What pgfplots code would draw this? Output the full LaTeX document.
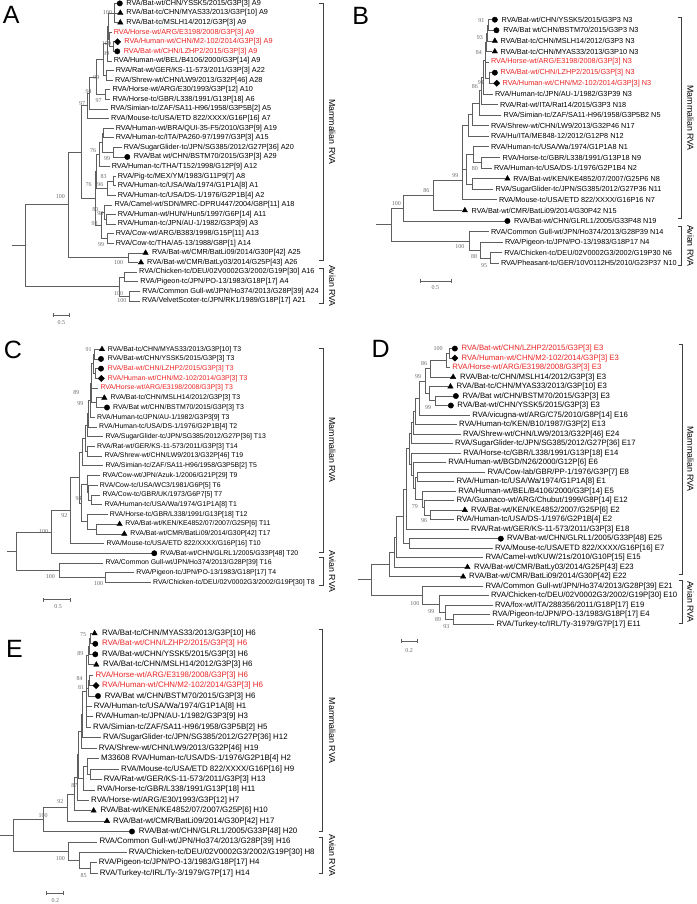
\documentclass[border=0pt]{standalone}
\usepackage{pgfplots}
\pgfplotsset{compat=1.18}
\usepackage{fontspec}
\setmainfont{Liberation Sans}
\newfontfamily\serifnum{Liberation Serif}
\definecolor{treegray}{RGB}{95,95,95}
\definecolor{redlab}{RGB}{235,35,35}
\definecolor{bsgray}{RGB}{105,105,105}
\newcommand{\lf}[4]{\node[anchor=west,inner sep=0pt,font=\fontsize{#1}{9}\selectfont] at (axis cs:#2,#3) {#4};}
\newcommand{\rl}[4]{\node[anchor=west,inner sep=0pt,text=redlab,font=\fontsize{#1}{9}\selectfont] at (axis cs:#2,#3) {#4};}
\newcommand{\bs}[3]{\node[inner sep=0pt,text=bsgray,font=\serifnum\fontsize{6}{7}\selectfont] at (axis cs:#1,#2) {#3};}
\newcommand{\pl}[3]{\node[inner sep=0pt,font=\fontsize{25}{25}\selectfont] at (axis cs:#1,#2) {#3};}
\newcommand{\grp}[3]{\node[inner sep=0pt,rotate=-90,font=\fontsize{8.8}{10}\selectfont] at (axis cs:#1,#2) {#3};}
\pgfplotsset{
  tree/.style={no marks, line width=0.7pt, draw=treegray, unbounded coords=jump, forget plot},
  brk/.style={no marks, line width=0.6pt, draw=black!75, unbounded coords=jump, forget plot},
  circ/.style={only marks, mark=*, mark size=2.7pt, black, forget plot},
  tri/.style={only marks, mark=triangle*, mark size=3.1pt, black, forget plot},
  dia/.style={only marks, mark=square*, mark size=2.2pt, black, every mark/.append style={rotate=45}, forget plot},
}
\begin{document}
\begin{tikzpicture}
\begin{axis}[width=696pt, height=904pt, scale only axis,
  xmin=0, xmax=696, ymin=0, ymax=904, y dir=reverse,
  hide axis, clip=false]
\addplot[draw=none, forget plot] coordinates {(0,0) (696,904)};

% ================= PANEL A =================
\addplot[tree] coordinates {
(117,3) (114,3) (114,22.2) (117.5,22.2) (nan,nan) (114,12.6) (117.5,12.6) (nan,nan)
(114.8,41.4) (113.5,41.4) (113.5,51) (114.5,51) (nan,nan)
(111.5,31.8) (109.5,31.8) (109.5,46.2) (113.5,46.2) (nan,nan)
(114,12.6) (108.5,12.6) (108.5,39) (109.5,39) (nan,nan)
(108.5,25.8) (107.5,25.8) (107.5,60.6) (111.3,60.6) (nan,nan)
(113.3,70.2) (106.5,70.2) (106.5,79.8) (112.7,79.8) (nan,nan)
(107.5,43.2) (103.5,43.2) (103.5,75) (106.5,75) (nan,nan)
(110,89.4) (105.3,89.4) (105.3,99) (110,99) (nan,nan)
(103.5,59.1) (96.5,59.1) (96.5,94.2) (105.3,94.2) (nan,nan)
(96.5,76.6) (89.5,76.6) (89.5,108.6) (108,108.6) (nan,nan)
(89.5,92.6) (87.5,92.6) (87.5,118.2) (108.7,118.2) (nan,nan)
(113.3,127.8) (103.3,127.8) (103.3,137.4) (113.3,137.4) (nan,nan)
(121.3,147) (112.7,147) (112.7,156.6) (124.5,156.6) (nan,nan)
(103.3,132.6) (101.7,132.6) (101.7,151.8) (112.7,151.8) (nan,nan)
(101.7,142.2) (99.5,142.2) (99.5,166.2) (109.3,166.2) (nan,nan)
(115.3,175.8) (113.5,175.8) (113.5,185.4) (115.3,185.4) (nan,nan)
(113.5,180.6) (106.7,180.6) (106.7,195) (115.3,195) (nan,nan)
(99.5,154.2) (96.5,154.2) (96.5,187.8) (106.7,187.8) (nan,nan)
(115.3,214.2) (106,214.2) (106,223.8) (115.3,223.8) (nan,nan)
(112,204.6) (104,204.6) (104,219) (106,219) (nan,nan)
(113.3,233.4) (107.5,233.4) (107.5,243) (113.3,243) (nan,nan)
(104,211.8) (101,211.8) (101,238.2) (107.5,238.2) (nan,nan)
(96.5,171) (95,171) (95,225) (101,225) (nan,nan)
(87.5,105.4) (81,105.4) (81,198) (95,198) (nan,nan)
(142.8,252.6) (128.3,252.6) (128.3,262.2) (138.2,262.2) (nan,nan)
(81,151.7) (67.7,151.7) (67.7,257.4) (128.3,257.4) (nan,nan)
(136.7,271.8) (124,271.8) (124,281.4) (138,281.4) (nan,nan)
(140,291) (129.3,291) (129.3,300.6) (139.7,300.6) (nan,nan)
(124,276.6) (119,276.6) (119,295.8) (129.3,295.8) (nan,nan)
(67.7,204.5) (25,204.5) (25,286.2) (119,286.2) (nan,nan)
(11.7,245.4) (25,245.4) (nan,nan)
(53,315) (69,315) (nan,nan) (53,313) (53,317) (nan,nan) (69,313) (69,317)
};
\addplot[brk] coordinates {(319,2.7) (322.7,2.7) (322.7,260) (319,260) (nan,nan) (319,268.3) (322.7,268.3) (322.7,303) (319,303)};
\addplot[circ] coordinates {(119.5,3) (117,51) (127,156.6)};
\addplot[tri] coordinates {(120,12.6) (120,22.2) (145.3,252.6) (140.7,262.2)};
\addplot[dia] coordinates {(117.3,41.4)};
\pl{10.8}{14.2}{A}
\grp{332}{131.4}{Mammalian RVA}
\grp{332}{285.7}{Avian RVA}
\lf{7.3}{126}{3}{RVA/Bat-wt/CHN/YSSK5/2015/G3P[3] A9}
\lf{7.3}{126}{12.6}{RVA/Bat-tc/CHN/MYAS33/2013/G3P[10] A9}
\lf{7.3}{126}{22.2}{RVA/Bat-tc/MSLH14/2012/G3P[3] A9}
\rl{7.3}{113.3}{31.8}{RVA/Horse-wt/ARG/E3198/2008/G3P[3] A9}
\rl{7.3}{124}{41.4}{RVA/Human-wt/CHN/M2-102/2014/G3P[3] A9}
\rl{7.3}{123.3}{51}{RVA/Bat-wt/CHN/LZHP2/2015/G3P[3] A9}
\lf{7.3}{113.3}{60.6}{RVA/Human-wt/BEL/B4106/2000/G3P[14] A9}
\lf{7.3}{115.3}{70.2}{RVA/Rat-wt/GER/KS-11-573/2011/G3P[3] A22}
\lf{7.3}{114.7}{79.8}{RVA/Shrew-wt/CHN/LW9/2013/G32P[46] A28}
\lf{7.3}{112}{89.4}{RVA/Horse-wt/ARG/E30/1993/G3P[12] A10}
\lf{7.3}{112}{99}{RVA/Horse-tc/GBR/L338/1991/G13P[18] A6}
\lf{7.3}{110}{108.6}{RVA/Simian-tc/ZAF/SA11-H96/1958/G3P5B[2] A5}
\lf{7.3}{110.7}{118.2}{RVA/Mouse-tc/USA/ETD 822/XXXX/G16P[16] A7}
\lf{7.3}{115.3}{127.8}{RVA/Human-wt/BRA/QUI-35-F5/2010/G3P[9] A19}
\lf{7.3}{115.3}{137.4}{RVA/Human-tc/ITA/PA260-97/1997/G3P[3] A15}
\lf{7.3}{123.3}{147}{RVA/SugarGlider-tc/JPN/SG385/2012/G27P[36] A20}
\lf{7.3}{133.3}{156.6}{RVA/Bat wt/CHN/BSTM70/2015/G3P[3] A29}
\lf{7.3}{111.3}{166.2}{RVA/Human-tc/THA/T152/1998/G12P[9] A12}
\lf{7.3}{117.3}{175.8}{RVA/Pig-tc/MEX/YM/1983/G11P9[7] A8}
\lf{7.3}{117.3}{185.4}{RVA/Human-tc/USA/Wa/1974/G1P1A[8] A1}
\lf{7.3}{117.3}{195}{RVA/Human-tc/USA/DS-1/1976/G2P1B[4] A2}
\lf{7.3}{114}{204.6}{RVA/Camel-wt/SDN/MRC-DPRU447/2004/G8P[11] A18}
\lf{7.3}{117.3}{214.2}{RVA/Human-wt/HUN/Hun5/1997/G6P[14] A11}
\lf{7.3}{117.3}{223.8}{RVA/Human-tc/JPN/AU-1/1982/G3P3[9] A3}
\lf{7.3}{115.3}{233.4}{RVA/Cow-wt/ARG/B383/1998/G15P[11] A13}
\lf{7.3}{115.3}{243}{RVA/Cow-tc/THA/A5-13/1988/G8P[1] A14}
\lf{7.3}{151.7}{252.6}{RVA/Bat-wt/CMR/BatLi09/2014/G30P[42] A25}
\lf{7.3}{146.7}{262.2}{RVA/Bat-wt/CMR/BatLy03/2014/G25P[43] A26}
\lf{7.3}{138.7}{271.8}{RVA/Chicken-tc/DEU/02V0002G3/2002/G19P[30] A16}
\lf{7.3}{140}{281.4}{RVA/Pigeon-tc/JPN/PO-13/1983/G18P[17] A4}
\lf{7.3}{142}{291}{RVA/Common Gull-wt/JPN/Ho374/2013/G28P[39] A24}
\lf{7.3}{141.7}{300.6}{RVA/VelvetScoter-tc/JPN/RK1/1989/G18P[17] A21}
\bs{107}{12.5}{100} \bs{106}{43.3}{100} \bs{106}{52.7}{99} \bs{96}{77.3}{99}
\bs{88.3}{90.7}{94} \bs{98.3}{100}{97} \bs{81.7}{102.7}{97} \bs{92.7}{150}{76}
\bs{106.7}{158}{99} \bs{103.3}{176}{83} \bs{100}{184.3}{96} \bs{88.3}{184.3}{76}
\bs{60}{196}{100} \bs{95}{209.3}{80} \bs{100}{213.3}{98} \bs{94.3}{223}{93}
\bs{100.7}{244.3}{99} \bs{118.3}{262.7}{100} \bs{118.3}{293.3}{100} \bs{121.7}{300.7}{100}
\bs{61}{322.7}{0.5}

% ================= PANEL B =================
\addplot[tree] coordinates {
(492.2,19.3) (488.5,19.3) (488.5,29.9) (493.8,29.9) (nan,nan)
(488.5,24.6) (487.3,24.6) (487.3,40.5) (492.2,40.5) (nan,nan)
(487.3,32.6) (486.3,32.6) (486.3,51.1) (492.2,51.1) (nan,nan)
(492.2,72.3) (489,72.3) (489,82.9) (494.2,82.9) (nan,nan)
(486.3,41.9) (485,41.9) (485,77.6) (489,77.6) (nan,nan) (485,61.7) (488.7,61.7) (nan,nan)
(485,59.8) (483,59.8) (483,93.5) (492.7,93.5) (nan,nan)
(483,76.7) (481,76.7) (481,104.1) (497.7,104.1) (nan,nan)
(481,90.4) (479.5,90.4) (479.5,114.7) (501.3,114.7) (nan,nan)
(479.5,102.6) (472,102.6) (472,125.3) (488.7,125.3) (nan,nan)
(472,114) (468,114) (468,135.9) (488.7,135.9) (nan,nan)
(500.3,157.1) (481.3,157.1) (481.3,167.7) (491.7,167.7) (nan,nan)
(488.7,146.5) (473,146.5) (473,162.4) (481.3,162.4) (nan,nan)
(504.8,178.3) (472,178.3) (472,188.9) (493.3,188.9) (nan,nan)
(473,154.5) (466.3,154.5) (466.3,183.6) (472,183.6) (nan,nan)
(468,125) (462,125) (462,199.5) (496.7,199.5) (nan,nan) (462,169) (466.3,169) (nan,nan)
(462,180) (433.3,180) (433.3,210.1) (462.2,210.1) (nan,nan)
(433.3,195) (403.3,195) (403.3,220.7) (504.8,220.7) (nan,nan)
(502,252.5) (490.7,252.5) (490.7,263.1) (498.7,263.1) (nan,nan)
(502.7,241.9) (480.7,241.9) (480.7,257.8) (490.7,257.8) (nan,nan)
(488.7,231.3) (469,231.3) (469,249.9) (480.7,249.9) (nan,nan)
(403.3,207.9) (391.3,207.9) (391.3,240.6) (469,240.6) (nan,nan)
(376.3,224.2) (391.3,224.2) (nan,nan)
(419.7,280.7) (451.3,280.7) (nan,nan) (419.7,278.7) (419.7,282.7) (nan,nan) (451.3,278.7) (451.3,282.7)
};
\addplot[brk] coordinates {(678,17.3) (681.5,17.3) (681.5,218.3) (678,218.3) (nan,nan) (678,226) (681.5,226) (681.5,265) (678,265)};
\addplot[circ] coordinates {(494.7,19.3) (496.3,29.9) (494.7,72.3) (507.3,220.7)};
\addplot[tri] coordinates {(494.7,40.5) (494.7,51.1) (507.3,178.3) (464.7,210.1)};
\addplot[dia] coordinates {(496.7,82.9)};
\pl{360.5}{15.5}{B}
\grp{690.5}{117.8}{Mammalian RVA}
\grp{690.5}{245.5}{Avian RVA}
\lf{7.3}{501.3}{19.3}{RVA/Bat-wt/CHN/YSSK5/2015/G3P3 N3}
\lf{7.3}{503}{29.9}{RVA/Bat wt/CHN/BSTM70/2015/G3P3 N3}
\lf{7.3}{500.3}{40.5}{RVA/Bat-tc/CHN/MSLH14/2012/G3P3 N3}
\lf{7.3}{500.3}{51.1}{RVA/Bat-tc/CHN/MYAS33/2013/G3P10 N3}
\rl{7.3}{490.7}{61.7}{RVA/Horse-wt/ARG/E3198/2008/G3P[3] N3}
\rl{7.3}{500.3}{72.3}{RVA/Bat-wt/CHN/LZHP2/2015/G3P[3] N3}
\rl{7.3}{502.3}{82.9}{RVA/Human-wt/CHN/M2-102/2014/G3P[3] N3}
\lf{7.3}{494.7}{93.5}{RVA/Human-tc/JPN/AU-1/1982/G3P39 N3}
\lf{7.3}{499.7}{104.1}{RVA/Rat-wt/ITA/Rat14/2015/G3P3 N18}
\lf{7.3}{503.3}{114.7}{RVA/Simian-tc/ZAF/SA11-H96/1958/G3P5B2 N5}
\lf{7.3}{490.7}{125.3}{RVA/Shrew-wt/CHN/LW9/2013/G32P46 N17}
\lf{7.3}{490.7}{135.9}{RVA/Hu/ITA/ME848-12/2012/G12P8 N12}
\lf{7.3}{490.7}{146.5}{RVA/Human-tc/USA/Wa/1974/G1P1A8 N1}
\lf{7.3}{502.3}{157.1}{RVA/Horse-tc/GBR/L338/1991/G13P18 N9}
\lf{7.3}{493.7}{167.7}{RVA/Human-tc/USA/DS-1/1976/G2P1B4 N2}
\lf{7.3}{513}{178.3}{RVA/Bat-wt/KEN/KE4852/07/2007/G25P6 N8}
\lf{7.3}{495.3}{188.9}{RVA/SugarGlider-tc/JPN/SG385/2012/G27P36 N11}
\lf{7.3}{498.7}{199.5}{RVA/Mouse-tc/USA/ETD 822/XXXX/G16P16 N7}
\lf{7.3}{471.3}{210.1}{RVA/Bat-wt/CMR/BatLi09/2014/G30P42 N15}
\lf{7.3}{513.7}{220.7}{RVA/Bat-wt/CHN/GLRL1/2005/G33P48 N19}
\lf{7.3}{490.7}{231.3}{RVA/Common Gull-wt/JPN/Ho374/2013/G28P39 N14}
\lf{7.3}{504.7}{241.9}{RVA/Pigeon-tc/JPN/PO-13/1983/G18P17 N4}
\lf{7.3}{504}{252.5}{RVA/Chicken-tc/DEU/02V0002G3/2002/G19P30 N6}
\lf{7.3}{500.7}{263.1}{RVA/Pheasant-tc/GER/10V0112H5/2010/G23P37 N10}
\bs{481.3}{20}{91} \bs{479.7}{37.3}{93} \bs{478.7}{51.7}{84} \bs{480.7}{81.7}{91}
\bs{474.7}{86}{86} \bs{474.7}{168.3}{80} \bs{455.3}{175}{99} \bs{426.3}{190.7}{86}
\bs{396.3}{203.3}{100} \bs{459.7}{246.7}{100} \bs{474}{256.7}{88} \bs{484}{265}{95}
\bs{435.3}{287.3}{0.5}

% ================= PANEL C =================
\addplot[tree] coordinates {
(99.2,349) (94.5,349) (94.5,358.7) (98.2,358.7) (nan,nan)
(98.2,368.4) (95,368.4) (95,378.2) (98.5,378.2) (nan,nan)
(94.5,353.9) (93,353.9) (93,373.3) (95,373.3) (nan,nan)
(101.5,397.6) (96,397.6) (96,407.3) (104.2,407.3) (nan,nan)
(93,363.6) (91.5,363.6) (91.5,402.5) (96,402.5) (nan,nan) (91.5,387.9) (98,387.9) (nan,nan)
(91.5,383) (90,383) (90,417) (94.7,417) (nan,nan)
(90,400) (88.5,400) (88.5,426.8) (96.7,426.8) (nan,nan)
(88.5,413.4) (87,413.4) (87,436.5) (103,436.5) (nan,nan)
(94.7,446.2) (87,446.2) (87,455.9) (102,455.9) (nan,nan)
(87,425) (85,425) (85,451) (87,451) (nan,nan)
(85,438) (82.5,438) (82.5,465.6) (103,465.6) (nan,nan)
(100,494.8) (90.7,494.8) (90.7,504.5) (102,504.5) (nan,nan)
(97.3,485.1) (88.5,485.1) (88.5,499.7) (90.7,499.7) (nan,nan)
(100,475.4) (87,475.4) (87,492.4) (88.5,492.4) (nan,nan)
(116.8,524) (96,524) (96,533.7) (121.5,533.7) (nan,nan)
(107.3,514.2) (86.7,514.2) (86.7,528.9) (96,528.9) (nan,nan)
(87,483.9) (80.7,483.9) (80.7,521.5) (86.7,521.5) (nan,nan)
(82.5,451.8) (79,451.8) (79,502.7) (80.7,502.7) (nan,nan)
(79,477.3) (70,477.3) (70,543.4) (104,543.4) (nan,nan)
(70,510.4) (51,510.4) (51,553.1) (151.5,553.1) (nan,nan)
(134,572.6) (105.3,572.6) (105.3,582.3) (150.7,582.3) (nan,nan)
(103,562.8) (58.7,562.8) (58.7,577.4) (105.3,577.4) (nan,nan)
(51,531.8) (16,531.8) (16,570.1) (58.7,570.1) (nan,nan)
(6.7,551) (16,551) (nan,nan)
(43.5,599.5) (70,599.5) (nan,nan) (43.5,597.5) (43.5,601.5) (nan,nan) (70,597.5) (70,601.5)
};
\addplot[brk] coordinates {(319,348.3) (322.7,348.3) (322.7,551.7) (319,551.7) (nan,nan) (319,557.3) (322.7,557.3) (322.7,585) (319,585)};
\addplot[circ] coordinates {(100.7,358.7) (100.7,368.4) (106.7,407.3) (154,553.1)};
\addplot[tri] coordinates {(101.7,349) (104,397.6) (119.3,524) (124,533.7)};
\addplot[dia] coordinates {(101,378.2)};
\pl{12.5}{349.5}{C}
\grp{332}{450}{Mammalian RVA}
\grp{332}{571.2}{Avian RVA}
\lf{6.9}{107.3}{349}{RVA/Bat-tc/CHN/MYAS33/2013/G3P[10] T3}
\lf{6.9}{107.3}{358.7}{RVA/Bat-wt/CHN/YSSK5/2015/G3P[3] T3}
\rl{6.9}{107.3}{368.4}{RVA/Bat-wt/CHN/LZHP2/2015/G3P[3] T3}
\rl{6.9}{107.3}{378.2}{RVA/Human-wt/CHN/M2-102/2014/G3P[3] T3}
\rl{6.9}{100}{387.9}{RVA/Horse-wt/ARG/E3198/2008/G3P[3] T3}
\lf{6.9}{110}{397.6}{RVA/Bat-tc/CHN/MSLH14/2012/G3P[3] T3}
\lf{6.9}{112.7}{407.3}{RVA/Bat wt/CHN/BSTM70/2015/G3P[3] T3}
\lf{6.9}{96.7}{417}{RVA/Human-tc/JPN/AU-1/1982/G3P3[9] T3}
\lf{6.9}{98.7}{426.8}{RVA/Human-tc/USA/DS-1/1976/G2P1B[4] T2}
\lf{6.9}{105}{436.5}{RVA/SugarGlider-tc/JPN/SG385/2012/G27P[36] T13}
\lf{6.9}{96.7}{446.2}{RVA/Rat-wt/GER/KS-11-573/2011/G3P[3] T14}
\lf{6.9}{104}{455.9}{RVA/Shrew-wt/CHN/LW9/2013/G32P[46] T19}
\lf{6.9}{105}{465.6}{RVA/Simian-tc/ZAF/SA11-H96/1958/G3P5B[2] T5}
\lf{6.9}{102}{475.4}{RVA/Cow-wt/JPN/Azuk-1/2006/G21P[29] T9}
\lf{6.9}{99.3}{485.1}{RVA/Cow-tc/USA/WC3/1981/G6P[5] T6}
\lf{6.9}{102}{494.8}{RVA/Cow-tc/GBR/UK/1973/G6P7[5] T7}
\lf{6.9}{104}{504.5}{RVA/Human-tc/USA/Wa/1974/G1P1A[8] T1}
\lf{6.9}{109.3}{514.2}{RVA/Horse-tc/GBR/L338/1991/G13P[18] T12}
\lf{6.9}{125}{524}{RVA/Bat-wt/KEN/KE4852/07/2007/G25P[6] T11}
\lf{6.9}{130}{533.7}{RVA/Bat-wt/CMR/BatLi09/2014/G30P[42] T17}
\lf{6.9}{106}{543.4}{RVA/Mouse-tc/USA/ETD 822/XXXX/G16P[16] T10}
\lf{6.9}{160}{553.1}{RVA/Bat-wt/CHN/GLRL1/2005/G33P[48] T20}
\lf{6.9}{105}{562.8}{RVA/Common Gull-wt/JPN/Ho374/2013/G28P[39] T16}
\lf{6.9}{136}{572.6}{RVA/Pigeon-tc/JPN/PO-13/1983/G18P[17] T4}
\lf{6.9}{152.7}{582.3}{RVA/Chicken-tc/DEU/02V0002G3/2002/G19P[30] T8}
\bs{88.3}{349}{91} \bs{76}{392.7}{89} \bs{80}{403.3}{99} \bs{78.3}{498.3}{94}
\bs{64}{515}{92} \bs{43.3}{531}{100} \bs{50}{576.7}{100} \bs{98.3}{583.3}{100}
\bs{57.7}{606.5}{0.5}

% ================= PANEL D =================
\addplot[tree] coordinates {
(452.2,348.3) (449,348.3) (449,357.8) (452.2,357.8) (nan,nan)
(449,353) (446.5,353) (446.5,367.3) (450,367.3) (nan,nan)
(446.5,360.2) (430,360.2) (430,376.8) (450.5,376.8) (nan,nan)
(453.2,395.8) (434.7,395.8) (434.7,405.3) (448.2,405.3) (nan,nan)
(447.8,386.3) (428.7,386.3) (428.7,400.6) (434.7,400.6) (nan,nan)
(430,368.5) (424.7,368.5) (424.7,393.5) (428.7,393.5) (nan,nan)
(424.7,381) (419,381) (419,414.8) (470,414.8) (nan,nan)
(419,397.9) (415,397.9) (415,424.4) (456.7,424.4) (nan,nan)
(415,411.2) (413,411.2) (413,433.9) (460.7,433.9) (nan,nan)
(413,422.6) (411,422.6) (411,443.4) (452.7,443.4) (nan,nan)
(485.3,471.9) (416.7,471.9) (416.7,481.4) (454.3,481.4) (nan,nan)
(462.2,509.9) (430,509.9) (430,519.5) (454.3,519.5) (nan,nan)
(454.3,500.4) (424.3,500.4) (424.3,514.7) (430,514.7) (nan,nan)
(456,490.9) (422,490.9) (422,507.6) (424.3,507.6) (nan,nan)
(416.7,476.7) (415.3,476.7) (415.3,499.3) (422,499.3) (nan,nan)
(446,462.4) (413,462.4) (413,488) (415.3,488) (nan,nan)
(461,452.9) (411.5,452.9) (411.5,475.2) (413,475.2) (nan,nan)
(411,433) (409,433) (409,464) (411.5,464) (nan,nan)
(409,448.5) (406.5,448.5) (406.5,529) (468.7,529) (nan,nan)
(498.2,538.5) (409,538.5) (409,548) (492.7,548) (nan,nan)
(406.5,488.8) (403,488.8) (403,543.3) (409,543.3) (nan,nan)
(403,516) (396,516) (396,557.5) (483.3,557.5) (nan,nan)
(396,536.8) (394.5,536.8) (394.5,567) (464.8,567) (nan,nan)
(394.5,551.9) (388.7,551.9) (388.7,576.5) (460.5,576.5) (nan,nan)
(490,614.5) (453,614.5) (453,624) (494.3,624) (nan,nan)
(492.7,605) (444.7,605) (444.7,619.3) (453,619.3) (nan,nan)
(488.7,595.5) (438.7,595.5) (438.7,612.2) (444.7,612.2) (nan,nan)
(483.3,586) (422,586) (422,603.9) (438.7,603.9) (nan,nan)
(388.7,564.2) (370.7,564.2) (370.7,595) (422,595) (nan,nan)
(358,579.6) (370.7,579.6) (nan,nan)
(400.7,641) (417.3,641) (nan,nan) (400.7,639) (400.7,643) (nan,nan) (417.3,639) (417.3,643)
};
\addplot[brk] coordinates {(678.5,344.3) (682,344.3) (682,574) (678.5,574) (nan,nan) (678.5,580) (682,580) (682,623.5) (678.5,623.5)};
\addplot[circ] coordinates {(454.7,348.3) (455.7,395.8) (450.7,405.3) (500.7,538.5)};
\addplot[tri] coordinates {(453,376.8) (450.3,386.3) (464.7,509.9) (467.3,567) (463,576.5)};
\addplot[dia] coordinates {(454.7,357.8)};
\pl{380.5}{349}{D}
\grp{690.5}{459}{Mammalian RVA}
\grp{690.5}{601.7}{Avian RVA}
\rl{7.75}{461.3}{348.3}{RVA/Bat-wt/CHN/LZHP2/2015/G3P[3] E3}
\rl{7.75}{461.3}{357.8}{RVA/Human-wt/CHN/M2-102/2014/G3P[3] E3}
\rl{7.75}{452}{367.3}{RVA/Horse-wt/ARG/E3198/2008/G3P[3] E3}
\lf{7.75}{459.7}{376.8}{RVA/Bat-tc/CHN/MSLH14/2012/G3P[3] E3}
\lf{7.75}{456.3}{386.3}{RVA/Bat-tc/CHN/MYAS33/2013/G3P[10] E3}
\lf{7.75}{462.3}{395.8}{RVA/Bat wt/CHN/BSTM70/2015/G3P[3] E3}
\lf{7.75}{457}{405.3}{RVA/Bat-wt/CHN/YSSK5/2015/G3P[3] E3}
\lf{7.75}{472}{414.8}{RVA/vicugna-wt/ARG/C75/2010/G8P[14] E16}
\lf{7.75}{458.7}{424.4}{RVA/Human-tc/KEN/B10/1987/G3P[2] E13}
\lf{7.75}{462.7}{433.9}{RVA/Shrew-wt/CHN/LW9/2013/G32P[46] E24}
\lf{7.75}{454.7}{443.4}{RVA/SugarGlider-tc/JPN/SG385/2012/G27P[36] E17}
\lf{7.75}{463}{452.9}{RVA/Horse-tc/GBR/L338/1991/G13P[18] E14}
\lf{7.75}{448}{462.4}{RVA/Human-wt/BGD/N26/2000/G12P[6] E6}
\lf{7.75}{487.3}{471.9}{RVA/Cow-lab/GBR/PP-1/1976/G3P[7] E8}
\lf{7.75}{456.3}{481.4}{RVA/Human-tc/USA/Wa/1974/G1P1A[8] E1}
\lf{7.75}{458}{490.9}{RVA/Human-wt/BEL/B4106/2000/G3P[14] E5}
\lf{7.75}{456.3}{500.4}{RVA/Guanaco-wt/ARG/Chubut/1999/G8P[14] E12}
\lf{7.75}{470.7}{509.9}{RVA/Bat-wt/KEN/KE4852/2007/G25P[6] E2}
\lf{7.75}{456.3}{519.5}{RVA/Human-tc/USA/DS-1/1976/G2P1B[4] E2}
\lf{7.75}{470.7}{529}{RVA/Rat-wt/GER/KS-11-573/2011/G3P[3] E18}
\lf{7.75}{506.7}{538.5}{RVA/Bat-wt/CHN/GLRL1/2005/G33P[48] E25}
\lf{7.75}{494.7}{548}{RVA/Mouse-tc/USA/ETD 822/XXXX/G16P[16] E7}
\lf{7.75}{485.3}{557.5}{RVA/Camel-wt/KUW/21s/2010/G10P[15] E15}
\lf{7.75}{473.7}{567}{RVA/Bat-wt/CMR/BatLy03/2014/G25P[43] E23}
\lf{7.75}{468.7}{576.5}{RVA/Bat-wt/CMR/BatLi09/2014/G30P[42] E22}
\lf{7.75}{485.3}{586}{RVA/Common Gull-wt/JPN/Ho374/2013/G28P[39] E21}
\lf{7.75}{490.7}{595.5}{RVA/Chicken-tc/DEU/02V0002G3/2002/G19P[30] E10}
\lf{7.75}{494.7}{605}{RVA/fox-wt/ITA/288356/2011/G18P[17] E19}
\lf{7.75}{492}{614.5}{RVA/Pigeon-tc/JPN/PO-13/1983/G18P[17] E4}
\lf{7.75}{496.3}{624}{RVA/Turkey-tc/IRL/Ty-31979/G7P[17] E11}
\bs{438}{348.3}{100} \bs{424}{363.3}{86} \bs{418}{376}{99} \bs{428}{407.3}{99}
\bs{414.7}{506.7}{79} \bs{424}{520.7}{96} \bs{414.7}{603.3}{100} \bs{431.3}{611.7}{99}
\bs{438}{619.3}{89} \bs{446.3}{626}{93}
\bs{409}{650.7}{0.2}

% ================= PANEL E =================
\addplot[tree] coordinates {
(91.8,633.3) (90,633.3) (90,643.7) (92.5,643.7) (nan,nan)
(90,638.5) (89.3,638.5) (89.3,654.2) (92.5,654.2) (nan,nan)
(89.3,646.3) (88.3,646.3) (88.3,664.6) (93.5,664.6) (nan,nan)
(93,675) (89.3,675) (89.3,685.5) (93.2,685.5) (nan,nan)
(89.3,680.3) (87.7,680.3) (87.7,695.9) (95.2,695.9) (nan,nan)
(88.3,655.5) (86,655.5) (86,727.2) (90.7,727.2) (nan,nan) (86,688.1) (87.7,688.1) (nan,nan) (86,706.3) (91.3,706.3) (nan,nan) (86,716.7) (93,716.7) (nan,nan)
(86,691.4) (82.5,691.4) (82.5,737.6) (100.7,737.6) (nan,nan)
(82.5,714.5) (81,714.5) (81,748) (96.3,748) (nan,nan)
(118.7,768.9) (90,768.9) (90,779.3) (101.3,779.3) (nan,nan)
(98.7,758.5) (86.7,758.5) (86.7,774.1) (90,774.1) (nan,nan)
(86.7,766.3) (83.3,766.3) (83.3,789.8) (94.7,789.8) (nan,nan)
(81,731.3) (78.5,731.3) (78.5,778) (83.3,778) (nan,nan)
(78.5,754.7) (77,754.7) (77,800.2) (88.7,800.2) (nan,nan)
(77,777.5) (74,777.5) (74,810.6) (90.8,810.6) (nan,nan)
(74,794) (67.3,794) (67.3,821) (104.2,821) (nan,nan)
(67.3,807.5) (43.3,807.5) (43.3,831.5) (129.2,831.5) (nan,nan)
(96.3,862.7) (90,862.7) (90,873.2) (97.3,873.2) (nan,nan)
(126.3,852.3) (79,852.3) (79,868) (90,868) (nan,nan)
(97,841.9) (68.3,841.9) (68.3,860.2) (79,860.2) (nan,nan)
(43.3,819.5) (13.3,819.5) (13.3,851) (68.3,851) (nan,nan)
(0,835.3) (13.3,835.3) (nan,nan)
(46,893.3) (63.3,893.3) (nan,nan) (46,891.3) (46,895.3) (nan,nan) (63.3,891.3) (63.3,895.3)
};
\addplot[brk] coordinates {(318.5,629.3) (322,629.3) (322,831.7) (318.5,831.7) (nan,nan) (318.5,837.3) (322,837.3) (322,873.3) (318.5,873.3)};
\addplot[circ] coordinates {(95,643.7) (95,654.2) (97.7,695.9) (131.7,831.5)};
\addplot[tri] coordinates {(94.3,633.3) (96,664.6) (93.3,810.6) (106.7,821)};
\addplot[dia] coordinates {(95.7,685.5)};
\pl{14}{648.7}{E}
\grp{332}{730.5}{Mammalian RVA}
\grp{332}{855.3}{Avian RVA}
\lf{7.9}{101.7}{633.3}{RVA/Bat-tc/CHN/MYAS33/2013/G3P[10] H6}
\rl{7.9}{101.7}{643.7}{RVA/Bat-wt/CHN/LZHP2/2015/G3P[3] H6}
\lf{7.9}{101.7}{654.2}{RVA/Bat-wt/CHN/YSSK5/2015/G3P[3] H6}
\lf{7.9}{102.7}{664.6}{RVA/Bat-tc/CHN/MSLH14/2012/G3P[3] H6}
\rl{7.9}{95}{675}{RVA/Horse-wt/ARG/E3198/2008/G3P[3] H6}
\rl{7.9}{101.7}{685.5}{RVA/Human-wt/CHN/M2-102/2014/G3P[3] H6}
\lf{7.9}{104.3}{695.9}{RVA/Bat wt/CHN/BSTM70/2015/G3P[3] H6}
\lf{7.9}{93.3}{706.3}{RVA/Human-tc/USA/Wa/1974/G1P1A[8] H1}
\lf{7.9}{95}{716.7}{RVA/Human-tc/JPN/AU-1/1982/G3P3[9] H3}
\lf{7.9}{92.7}{727.2}{RVA/Simian-tc/ZAF/SA11-H96/1958/G3P5B[2] H5}
\lf{7.9}{102.7}{737.6}{RVA/SugarGlider-tc/JPN/SG385/2012/G27P[36] H12}
\lf{7.9}{98.3}{748}{RVA/Shrew-wt/CHN/LW9/2013/G32P[46] H19}
\lf{7.9}{100.7}{758.5}{M33608 RVA/Human-tc/USA/DS-1/1976/G2P1B[4] H2}
\lf{7.9}{120.7}{768.9}{RVA/Mouse-tc/USA/ETD 822/XXXX/G16P[16] H9}
\lf{7.9}{103.3}{779.3}{RVA/Rat-wt/GER/KS-11-573/2011/G3P[3] H13}
\lf{7.9}{96.7}{789.8}{RVA/Horse-tc/GBR/L338/1991/G13P[18] H11}
\lf{7.9}{90.7}{800.2}{RVA/Horse-wt/ARG/E30/1993/G3P[12] H7}
\lf{7.9}{100}{810.6}{RVA/Bat-wt/KEN/KE4852/07/2007/G25P[6] H10}
\lf{7.9}{112.7}{821}{RVA/Bat-wt/CMR/BatLi09/2014/G30P[42] H17}
\lf{7.9}{138.3}{831.5}{RVA/Bat-wt/CHN/GLRL1/2005/G33P[48] H20}
\lf{7.9}{99}{841.9}{RVA/Common Gull-wt/JPN/Ho374/2013/G28P[39] H16}
\lf{7.9}{128.3}{852.3}{RVA/Chicken-tc/DEU/02V0002G3/2002/G19P[30] H8}
\lf{7.9}{98.3}{862.7}{RVA/Pigeon-tc/JPN/PO-13/1983/G18P[17] H4}
\lf{7.9}{99.3}{873.2}{RVA/Turkey-tc/IRL/Ty-3/1979/G7P[17] H14}
\bs{82.7}{634.3}{75} \bs{80}{653.3}{89} \bs{79.3}{678.3}{84} \bs{80.7}{687.3}{81}
\bs{74}{785}{87} \bs{60}{801.7}{92} \bs{42.7}{815}{100} \bs{60}{858.3}{100}
\bs{83.3}{876}{85}
\bs{55}{900.5}{0.2}
\end{axis}
\end{tikzpicture}
\end{document}
